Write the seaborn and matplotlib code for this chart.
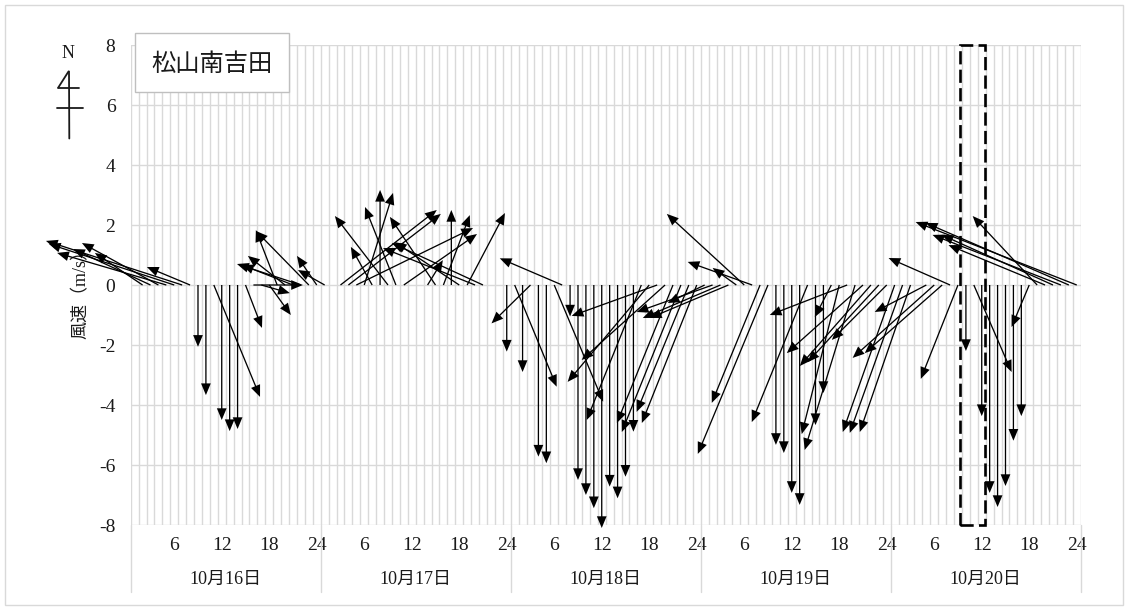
import numpy as np
import pandas as pd
import matplotlib
matplotlib.use("Agg")
import matplotlib.pyplot as plt
import seaborn as sns
from matplotlib.patches import Rectangle
from matplotlib.lines import Line2D

nan = np.nan

# ---------------- data ----------------
station = "松山南吉田"
ylabel = "風速（m/s）"
days = ["10月16日", "10月17日", "10月18日", "10月19日", "10月20日"]
hour_ticks = [6, 12, 18, 24]
y_ticks = [-8, -6, -4, -2, 0, 2, 4, 6, 8]

# east-west (u) and north-south (v) wind components, m/s, hours 1..24 of each day
u16 = [nan, -1.59, -2.58, -2.55, -3.64, -4.18, -4.54, -1.44, 0, 0, 1.54, 0,
       0, 0, 0.55, 1.65, 0.95, 0.72, -0.71, -1.24, -1.70, -2.13, -1.76, -0.66]
v16 = [nan, 1.07, 1.20, 1.40, 1.07, 1.37, 1.47, 0.60, -2.06, -3.67, -3.73, -4.50,
       -4.87, -4.80, -1.43, 0.00, -0.27, -1.00, 1.83, 0.97, 0.67, 0.70, 1.80, 0.97]

u17 = [-0.89, nan, 3.21, 3.08, 3.89, 0.96, -0.71, 0, -1.77, -1.03, 2.44, nan,
       nan, 0.51, -1.52, 0.88, 0, -2.15, 1.26, -3.07, -3.04, nan, nan, 0]
v17 = [0.50, nan, 2.50, 2.37, 1.90, 3.07, 1.27, 3.17, 2.30, 2.60, 1.70, nan,
       nan, 0.83, 2.27, 2.33, 2.50, 1.43, 2.40, 1.23, 1.40, nan, nan, -2.22]

u18 = [1.40, 0, -1.30, 0, 0, 1.63, -2.08, 0, 0, 0, 0, 0,
       0, 0, 0, 0, -1.82, -2.72, -2.85, -2.78, -1.87, -1.97, -1.74, -1.83]
v18 = [-3.39, -2.90, -1.28, -5.72, -5.94, -3.89, 0.89, -1.05, -6.50, -7.00, -7.44, -8.10,
       -6.72, -7.11, -6.39, -4.89, -4.50, -3.23, -1.03, -2.50, -4.60, -4.90, -4.23, -4.60]

u19 = [-1.23, -2.53, -2.59, -2.62, -0.79, -2.58, -2.15, -1.61, -2.34, 0, 0, 0,
       0, -1.86, 0, 0, -0.55, -1.25, -2.58, -1.68, -2.54, -2.37, -2.37, -1.83]
v19 = [-0.60, -0.90, -1.10, -1.10, 0.57, 2.37, 0.77, -3.93, -5.63, -5.33, -5.60, -6.93,
       -7.33, -4.57, -4.67, -3.60, -1.07, -4.97, -1.00, -5.50, -2.27, -2.70, -2.57, -1.83]

u20 = [-1.73, -1.76, -1.69, nan, -1.72, -2.72, -2.58, -2.05, -1.24, 0, 1.26, 0,
       0, 0, 0, 0, 0, -0.59, -2.15, -3.22, -3.71, -4.28, -4.77, -5.37]
v20 = [-4.90, -4.93, -4.90, nan, -0.90, -2.43, -2.27, 0.90, -3.13, -2.20, -2.90, -4.37,
       -6.93, -7.40, -6.70, -5.19, -4.37, -1.40, 2.30, 1.33, 1.67, 1.67, 2.07, 2.10]

# highlighted hours on 10月20日 (dashed box)
box_day = 4
box_hours = (9.3, 12.4)

# ---------------- table ----------------
u_all = [u16, u17, u18, u19, u20]
v_all = [v16, v17, v18, v19, v20]
rows = []
for d, (us, vs) in enumerate(zip(u_all, v_all)):
    for h in range(24):
        rows.append({"day": days[d], "hour": h + 1, "x": d * 24 + h + 1,
                     "u": us[h], "v": vs[h]})
df = pd.DataFrame(rows).dropna()

# ---------------- style ----------------
sns.set_theme(style="white")
plt.rcParams["font.family"] = ["Liberation Serif", "Noto Sans CJK JP", "DejaVu Sans"]
plt.rcParams["axes.unicode_minus"] = False

W, H = 1128, 608
fig = plt.figure(figsize=(W / 100, H / 100), dpi=100)
ax = fig.add_axes([130.7 / W, (H - 525) / H, 950 / W, 480 / H])

grid_c = "#d9d9d9"
text_c = "#1a1a1a"

ax.set_xlim(0.5, 120.5)
ax.set_ylim(-8, 8)
ax.set_yticks(y_ticks)
ax.set_yticklabels([str(t) for t in y_ticks])
maj = [d * 24 + h for d in range(len(days)) for h in hour_ticks]
ax.set_xticks(maj)
ax.set_xticklabels([str(h) for d in range(len(days)) for h in hour_ticks])
ax.set_xticks(np.arange(0.5, 121, 1), minor=True)
ax.grid(which="minor", axis="x", color=grid_c, lw=1)
ax.grid(which="major", axis="y", color=grid_c, lw=1)
ax.grid(which="major", axis="x", visible=False)
ax.set_axisbelow(True)
for s in ax.spines.values():
    s.set_visible(False)
ax.tick_params(which="both", length=0)
ax.tick_params(axis="y", pad=11, labelsize=14, labelcolor=text_c)
ax.tick_params(axis="x", pad=9, labelsize=14, labelcolor=text_c)

ax.set_ylabel(ylabel, fontsize=13, color=text_c)
ax.yaxis.set_label_coords(-0.043, 0.49)

# wind vectors (stick plot)
q = ax.quiver(df["x"].to_numpy(), np.zeros(len(df)), df["u"].to_numpy(), df["v"].to_numpy(),
              angles="uv", scale_units="y", scale=1, units="dots", width=1.3,
              headwidth=7.5, headlength=9, headaxislength=9, minshaft=0.5,
              minlength=0.5, color="black", zorder=5)
q.set_clip_on(False)

# day labels and separators
xt = ax.get_xaxis_transform()
for d, name in enumerate(days):
    ax.text(d * 24 + 12.5, -0.114, name, transform=xt, ha="center", va="center",
            fontsize=13, color=text_c)
for d in range(len(days) + 1):
    ax.plot([d * 24 + 0.5] * 2, [0, -0.14], transform=xt, clip_on=False,
            color=grid_c, lw=1)

# dashed highlight box
ax.add_patch(Rectangle((box_day * 24 + box_hours[0], -8), box_hours[1] - box_hours[0], 16,
                       fill=False, ec="black", lw=1.9, ls=(0, (5, 2)), clip_on=False, zorder=6))

# station label box
def fx(x):
    return x / W

def fy(y):
    return 1 - y / H

fig.add_artist(Rectangle((fx(135), fy(92)), 154 / W, 59 / H, transform=fig.transFigure,
                         fc="white", ec="#bfbfbf", lw=1, zorder=10))
fig.text(fx(212), fy(64), station, fontsize=17.5, family=["Noto Sans CJK JP"],
         ha="center", va="center", color=text_c, zorder=11)

# north symbol
fig.text(fx(67.7), fy(53), "N", fontsize=13, ha="center", va="center", color=text_c)
for (x0, y0), (x1, y1) in [((68.5, 71.5), (58.3, 87.5)), ((58.3, 87.5), (78.5, 87.5)),
                           ((69.0, 71.5), (69.3, 138.5)), ((56.7, 108.3), (82.7, 108.3))]:
    fig.add_artist(Line2D([fx(x0), fx(x1)], [fy(y0), fy(y1)], transform=fig.transFigure,
                          color=text_c, lw=1.3))

# chart border
fig.add_artist(Rectangle((fx(5), fy(605)), 1118 / W, 600 / H, transform=fig.transFigure,
                         fill=False, ec=grid_c, lw=1, zorder=0))

fig.savefig("out.png", dpi=100)
